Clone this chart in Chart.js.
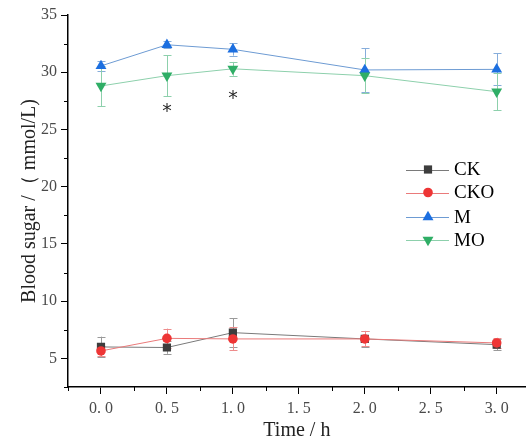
<!DOCTYPE html>
<html>
<head>
<meta charset="utf-8">
<script src="https://cdn.jsdelivr.net/npm/chart.js@4/dist/chart.umd.min.js"></script>
<style>
  html, body { margin: 0; padding: 0; background: #ffffff; }
  #wrap { width: 532px; height: 443px; position: relative; }
</style>
</head>
<body>
<div id="wrap"><canvas id="c" width="532" height="443"></canvas></div>
<script>
// ---- data ----
const times = [0, 0.5, 1.0, 2.0, 3.0];
const seriesNames = ['CK', 'CKO', 'M', 'MO'];
const ckValues  = [6.0, 5.95, 7.25, 6.7, 6.2];
const ckErrors  = [0.9, 0.55, 1.25, 0.7, 0.5];
const ckoValues = [5.65, 6.75, 6.7, 6.7, 6.35];
const ckoErrors = [0.45, 0.85, 1.0, 0.65, 0.45];
const mValues   = [30.55, 32.4, 32.0, 30.2, 30.25];
const mErrors   = [0.45, 0.3, 0.55, 1.9, 1.4];
const moValues  = [28.8, 29.7, 30.3, 29.7, 28.3];
const moErrors  = [1.75, 1.8, 0.6, 1.5, 1.6];
const starTimes  = [0.5, 1.0];
const starLevels = [27.05, 28.2];
const xTickValues = [-0.25, 0, 0.25, 0.5, 0.75, 1.0, 1.25, 1.5, 1.75, 2.0, 2.25, 2.5, 2.75, 3.0];
const yTickValues = [2.5, 5, 7.5, 10, 12.5, 15, 17.5, 20, 22.5, 25, 27.5, 30, 32.5, 35];
const xTitle = 'Time / h';
const yTitle = 'Blood sugar /（ mmol/L)';

const serif = "'Liberation Serif', 'Times New Roman', serif";

const styles = [
  { name: seriesNames[0], values: ckValues,  errors: ckErrors,  marker: '#3d3d3d', line: '#7a7a7a', err: '#9a9a9a', pointStyle: 'rect',     radius: 5.8, rotation: 0 },
  { name: seriesNames[1], values: ckoValues, errors: ckoErrors, marker: '#ee3535', line: '#ea7a7a', err: '#ee8c8c', pointStyle: 'circle',   radius: 4.8, rotation: 0 },
  { name: seriesNames[2], values: mValues,   errors: mErrors,   marker: '#1c6fe0', line: '#6d9bd3', err: '#86addb', pointStyle: 'triangle', radius: 6.3, rotation: 0 },
  { name: seriesNames[3], values: moValues,  errors: moErrors,  marker: '#2fae66', line: '#8dd0ac', err: '#8dd0ac', pointStyle: 'triangle', radius: 6.3, rotation: 180 }
];

const datasets = styles.map((s, i) => ({
  label: s.name,
  data: times.map((t, k) => ({ x: t, y: s.values[k] })),
  errors: s.errors,
  errColor: s.err,
  borderColor: s.line,
  borderWidth: 1,
  backgroundColor: s.marker,
  pointBackgroundColor: s.marker,
  pointBorderColor: s.marker,
  pointBorderWidth: 0,
  pointStyle: s.pointStyle,
  pointRadius: s.radius,
  pointRotation: s.rotation,
  pointHoverRadius: s.radius,
  tension: 0,
  fill: false,
  order: 4 - i
}));

const isMultiple = (v, step) => Math.abs(v / step - Math.round(v / step)) < 1e-6;

const errorBarPlugin = {
  id: 'errorBars',
  beforeDatasetsDraw(chart) {
    const ctx = chart.ctx;
    const xs = chart.scales.x, ys = chart.scales.y;
    chart.data.datasets.forEach((ds) => {
      ctx.save();
      ctx.strokeStyle = ds.errColor;
      ctx.lineWidth = 1;
      ds.data.forEach((p, k) => {
        const e = ds.errors[k];
        const px = Math.round(xs.getPixelForValue(p.x)) + 0.5;
        const top = ys.getPixelForValue(p.y + e);
        const bot = ys.getPixelForValue(p.y - e);
        ctx.beginPath();
        ctx.moveTo(px, top); ctx.lineTo(px, bot);
        ctx.moveTo(px - 4, Math.round(top) + 0.5); ctx.lineTo(px + 4, Math.round(top) + 0.5);
        ctx.moveTo(px - 4, Math.round(bot) + 0.5); ctx.lineTo(px + 4, Math.round(bot) + 0.5);
        ctx.stroke();
      });
      ctx.restore();
    });
  },
  afterDatasetsDraw(chart) {
    const ctx = chart.ctx;
    const xs = chart.scales.x, ys = chart.scales.y;
    // significance marks
    ctx.save();
    ctx.fillStyle = '#2a2a2a';
    ctx.font = "19px 'DejaVu Sans', sans-serif";
    ctx.textAlign = 'center';
    ctx.textBaseline = 'alphabetic';
    starTimes.forEach((t, i) => {
      ctx.fillText('*', xs.getPixelForValue(t), ys.getPixelForValue(starLevels[i]) + 11);
    });
    ctx.restore();
    // legend
    ctx.save();
    const lx0 = 406, lx1 = 449, mx = 428, tx = 454;
    const rows = [169.5, 192.5, 217, 240];
    chart.data.datasets.forEach((ds, i) => {
      const y = rows[i];
      ctx.strokeStyle = ds.borderColor;
      ctx.lineWidth = 1;
      ctx.beginPath();
      ctx.moveTo(lx0, Math.round(y) + 0.5); ctx.lineTo(lx1, Math.round(y) + 0.5);
      ctx.stroke();
      ctx.fillStyle = ds.pointBackgroundColor;
      ctx.strokeStyle = ds.pointBackgroundColor;
      Chart.helpers.drawPoint(ctx, { pointStyle: ds.pointStyle, radius: ds.pointRadius, rotation: ds.pointRotation, borderWidth: 0 }, mx, y);
      ctx.fillStyle = '#000000';
      ctx.font = '19px ' + serif;
      ctx.textAlign = 'left';
      ctx.textBaseline = 'middle';
      ctx.fillText(ds.label, tx, y + 1);
    });
    ctx.restore();
  },
  afterDraw(chart) {
    // minor tick marks (shorter than the major ones)
    const ctx = chart.ctx;
    const xs = chart.scales.x, ys = chart.scales.y;
    ctx.save();
    ctx.strokeStyle = '#000000';
    ctx.lineWidth = 1;
    ctx.beginPath();
    xs.ticks.forEach(t => {
      if (!isMultiple(t.value, 0.5)) {
        const px = Math.round(xs.getPixelForValue(t.value)) + 0.5;
        ctx.moveTo(px, xs.top); ctx.lineTo(px, xs.top + 4);
      }
    });
    ys.ticks.forEach(t => {
      if (!isMultiple(t.value, 5)) {
        const py = Math.round(ys.getPixelForValue(t.value)) + 0.5;
        ctx.moveTo(ys.right, py); ctx.lineTo(ys.right - 4, py);
      }
    });
    ctx.stroke();
    ctx.restore();
  }
};

new Chart(document.getElementById('c'), {
  type: 'line',
  data: { datasets },
  options: {
    responsive: false,
    animation: false,
    devicePixelRatio: 1,
    layout: { padding: { left: 0, right: 2, top: 15, bottom: 0 } },
    plugins: {
      legend: { display: false },
      tooltip: { enabled: false }
    },
    scales: {
      x: {
        type: 'linear',
        min: -0.25,
        max: 3.22,
        afterBuildTicks(scale) { scale.ticks = xTickValues.map(v => ({ value: v })); },
        afterFit(scale) { scale.height = 56; },
        ticks: {
          autoSkip: false,
          maxRotation: 0,
          padding: 5,
          color: '#4a4a4a',
          font: { family: serif, size: 16 },
          callback(v) {
            if (isMultiple(v, 0.5) && v >= 0) return v.toFixed(1).replace('.', '. ');
            return '';
          }
        },
        grid: {
          display: true, drawOnChartArea: false, drawTicks: true, tickLength: 7, lineWidth: 1,
          tickColor: (c) => (c.tick && isMultiple(c.tick.value, 0.5)) ? '#000000' : 'rgba(0,0,0,0)'
        },
        border: { display: true, color: '#000000', width: 1.5 },
        title: { display: true, text: xTitle, color: '#222222', font: { family: serif, size: 20 }, padding: { top: 0, bottom: 0 } }
      },
      y: {
        type: 'linear',
        min: 2.5,
        max: 35,
        afterBuildTicks(scale) { scale.ticks = yTickValues.map(v => ({ value: v })); },
        afterFit(scale) { scale.width = 68; },
        ticks: {
          autoSkip: false,
          padding: 4,
          color: '#4a4a4a',
          font: { family: serif, size: 16 },
          callback(v) { return isMultiple(v, 5) ? String(v) : ''; }
        },
        grid: {
          display: true, drawOnChartArea: false, drawTicks: true, tickLength: 7, lineWidth: 1,
          tickColor: (c) => (c.tick && isMultiple(c.tick.value, 5)) ? '#000000' : 'rgba(0,0,0,0)'
        },
        border: { display: true, color: '#000000', width: 1.5 },
        title: { display: true, text: yTitle, color: '#222222', font: { family: serif, size: 20 }, padding: { top: 18, bottom: 0 } }
      }
    }
  },
  plugins: [errorBarPlugin]
});
</script>
</body>
</html>
